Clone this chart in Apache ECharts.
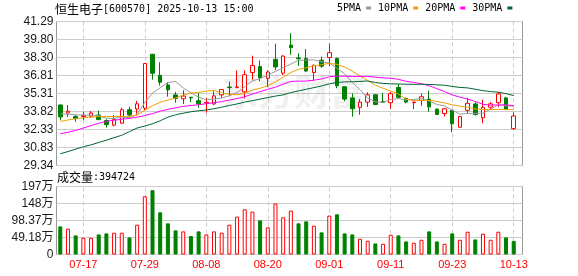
<!DOCTYPE html>
<html><head><meta charset="utf-8">
<script src="https://cdn.jsdelivr.net/npm/echarts@6/dist/echarts.min.js"></script>
<style>html,body{margin:0;padding:0;background:#fff}#c{width:578px;height:276px}</style>
</head><body><div id="c"></div>
<script>
const dates = ['07-14','07-15','07-16','07-17','07-18','07-21','07-22','07-23','07-24','07-25',
'07-28','07-29','07-30','07-31','08-01','08-04','08-05','08-06','08-07','08-08',
'08-11','08-12','08-13','08-14','08-15','08-18','08-19','08-20','08-21','08-22',
'08-25','08-26','08-27','08-28','08-29','09-01','09-02','09-03','09-04','09-05',
'09-08','09-09','09-10','09-11','09-12','09-15','09-16','09-17','09-18','09-19',
'09-22','09-23','09-24','09-25','09-26','09-29','09-30','10-09','10-10','10-13'];
const openP = [34.36,33.70,33.40,33.40,33.43,33.53,33.07,32.69,32.85,33.97,
34.03,34.10,38.57,36.82,36.02,35.20,34.88,35.00,34.72,34.52,
34.45,35.20,35.85,35.80,35.45,37.05,37.55,36.58,38.15,37.00,
39.33,38.27,38.22,37.05,38.08,38.30,38.22,35.88,34.95,34.17,
34.60,35.21,34.65,34.55,35.82,34.90,34.55,34.75,34.85,34.02,
33.65,33.92,32.52,33.92,34.45,33.30,34.18,34.55,34.95,32.40];
const closeP = [33.37,33.84,33.23,33.50,33.70,33.15,32.74,33.15,33.97,33.53,
34.46,37.80,37.00,36.25,35.62,34.90,35.10,34.95,34.46,34.58,
35.12,35.64,35.80,35.86,36.87,37.64,36.62,37.10,37.52,38.42,
39.12,38.20,37.18,37.64,37.58,38.70,35.95,34.85,34.05,34.60,
35.20,34.40,34.58,35.30,35.00,34.60,34.60,35.05,34.20,33.57,
34.05,32.80,33.40,34.50,33.56,34.17,34.46,35.28,34.00,33.45];
const lowP = [33.10,33.37,32.96,33.10,33.32,33.10,32.49,32.58,32.77,33.37,
33.63,33.90,36.46,35.98,35.05,34.55,34.45,34.60,34.14,33.72,
34.35,34.96,35.09,35.75,34.90,36.46,36.33,35.85,37.25,36.85,
38.52,37.60,37.10,36.35,37.45,37.60,35.75,34.68,33.40,33.55,
34.20,34.35,34.52,34.05,34.95,34.50,34.02,34.30,33.80,33.55,
33.40,32.10,32.45,33.70,33.50,32.85,33.95,34.20,33.95,32.30];
const highP = [34.40,34.36,33.53,33.80,33.86,33.89,33.18,33.53,34.14,34.22,
34.70,37.85,38.60,37.91,36.26,35.45,35.58,35.02,35.34,34.96,
35.50,35.66,36.30,37.23,37.24,38.45,38.05,37.25,39.45,38.50,
40.32,38.66,39.00,37.75,38.38,39.45,38.30,35.92,35.33,34.85,
35.42,35.25,35.37,35.45,36.10,34.98,34.62,35.32,35.55,34.05,
34.12,33.97,33.42,34.95,34.60,34.80,34.60,35.45,35.05,33.75];
const ma5 = [33.63,33.60,33.55,33.52,33.53,33.48,33.26,33.25,33.34,33.31,
33.57,34.58,35.35,35.80,36.23,36.31,35.78,35.37,35.01,34.80,
34.85,34.95,35.12,35.40,35.86,36.36,36.56,36.82,37.15,37.46,
37.76,38.07,38.09,38.11,37.94,37.86,37.41,36.95,36.23,35.63,
34.93,34.62,34.57,34.82,34.90,34.78,34.82,34.91,34.69,34.40,
34.29,33.93,33.60,33.66,33.66,33.69,34.02,34.39,34.29,34.27];
const ma10 = [33.00,33.12,33.22,33.30,33.36,33.40,33.40,33.40,33.41,33.42,
33.53,33.92,34.30,34.58,34.77,34.94,35.18,35.36,35.41,35.51,
35.58,35.36,35.24,35.21,35.33,35.60,35.75,35.97,36.28,36.66,
37.06,37.32,37.45,37.63,37.70,37.81,37.74,37.51,37.17,36.78,
36.39,36.01,35.75,35.52,35.26,34.85,34.72,34.74,34.75,34.65,
34.54,34.38,34.26,34.18,34.03,33.99,33.98,34.00,33.98,33.97];
const ma20 = [31.97,32.10,32.25,32.45,32.65,32.85,33.00,33.10,33.18,33.25,
33.35,33.48,33.65,33.85,34.00,34.12,34.25,34.32,34.38,34.47,
34.55,34.64,34.77,34.89,35.05,35.27,35.47,35.66,35.84,36.09,
36.32,36.34,36.35,36.42,36.52,36.71,36.75,36.75,36.73,36.73,
36.73,36.67,36.61,36.58,36.49,36.33,36.23,36.13,35.96,35.72,
35.47,35.20,35.01,34.85,34.65,34.42,34.35,34.37,34.37,34.31];
const ma30 = [30.31,30.50,30.70,30.90,31.05,31.25,31.44,31.65,31.85,32.15,
32.45,32.62,32.80,33.05,33.35,33.55,33.68,33.80,33.88,33.95,
34.05,34.18,34.32,34.45,34.60,34.72,34.85,34.98,35.10,35.20,
35.39,35.53,35.67,35.80,35.94,36.12,36.23,36.28,36.29,36.32,
36.35,36.23,36.15,36.12,36.10,36.09,36.07,36.08,36.07,36.03,
36.00,35.90,35.82,35.78,35.67,35.55,35.48,35.42,35.30,35.14];
const volume = [814000,746000,552000,485000,485000,581000,611000,630000,630000,494000,
862000,1686000,1861000,1221000,901000,698000,669000,533000,669000,581000,
669000,630000,862000,1095000,1308000,1240000,988000,785000,1473000,1076000,
1270000,901000,959000,833000,640000,1124000,1163000,611000,581000,455000,
397000,320000,310000,572000,552000,378000,339000,426000,669000,378000,
310000,611000,426000,659000,436000,601000,426000,659000,494000,394724];
const priceTicks = ['29.34','30.83','32.33','33.82','35.31','36.81','38.30','39.80','41.29'];
const volTicks = ['0','49.18万','98.37万','148万','197万'];
const priceRange = [29.34, 41.29];
const volRange = [0, 1967300];
const maNames = ['5PMA','10PMA','20PMA','30PMA'];

const UP = '#ff0000', DOWN = '#008000';
const maColors = ['#9a9a9a','#f0a000','#ff00ff','#006633'];
const FONT = '"Liberation Sans","Noto Sans CJK SC",sans-serif';
const MONO = '"DejaVu Sans Mono","Noto Sans CJK SC",monospace';
const CJK = '"Noto Sans CJK SC",sans-serif';
const showLabel = (i) => (i - 3) % 8 === 0;
const markDates = dates.filter((d, i) => showLabel(i));

const candle = dates.map((d, i) => [openP[i], closeP[i], lowP[i], highP[i]]);
const volData = volume.map((v, i) => {
  const up = i > 0 && closeP[i] >= closeP[i - 1];
  return {value: v, itemStyle: {color: up ? '#ffffff' : DOWN, borderColor: up ? UP : DOWN, borderWidth: 1}};
});
const vMark = {
  silent: true, z: 1, symbol: ['none', 'none'], animation: false,
  label: {show: false},
  lineStyle: {color: '#cccccc', type: [4, 3], width: 1},
  data: markDates.map(d => ({xAxis: d}))
};
const frameLeft = 56.5, frameW = 466, dataLeft = 56.45, dataW = 461.1;
const yLab = {fontSize: 12, fontFamily: FONT, color: '#1a1a1a', margin: 3};
const titleRich = {a: {fontSize: 12, fontFamily: CJK, color: '#000', fontWeight: 'normal'},
                   b: {fontSize: 10, fontFamily: MONO, color: '#000', fontWeight: 'normal'}};

const chart = echarts.init(document.getElementById('c'), null, {renderer: 'canvas'});
chart.setOption({
  animation: false,
  backgroundColor: '#ffffff',
  title: [
    {text: '{a|恒生电子}{b|[600570] 2025-10-13 15:00}', left: 55, top: 3, padding: 0,
     textStyle: {fontWeight: 'normal', rich: titleRich}},
    {text: '{a|成交量}{b|:' + volume[volume.length - 1] + '}', left: 57, top: 171, padding: 0,
     textStyle: {fontWeight: 'normal', rich: titleRich}}
  ],
  legend: {
    left: 337, top: 3, padding: 0, itemWidth: 5, itemHeight: 3, itemGap: 7, align: 'right',
    icon: 'rect', selectedMode: false, data: maNames,
    textStyle: {fontSize: 10, fontFamily: MONO, color: '#000', padding: [0, 0, 0, 0]}
  },
  graphic: [{type: 'text', left: 222, top: 74, z: 1, silent: true,
    style: {text: '东方财富', fontSize: 36, fontWeight: 'bold', fontFamily: CJK, fill: 'rgba(0,0,0,0.06)'}}],
  grid: [
    {left: frameLeft, top: 21.5, width: frameW, height: 144, show: true, borderColor: '#999', borderWidth: 1, backgroundColor: 'transparent', outerBoundsMode: 'none'},
    {left: dataLeft, top: 21.5, width: dataW, height: 144, outerBoundsMode: 'none'},
    {left: frameLeft, top: 186.5, width: frameW, height: 68, show: true, borderColor: '#999', borderWidth: 1, backgroundColor: 'transparent', outerBoundsMode: 'none'},
    {left: dataLeft, top: 186.5, width: dataW, height: 68, outerBoundsMode: 'none'}
  ],
  xAxis: [
    {gridIndex: 0, type: 'value', min: 0, max: 1, show: false},
    {gridIndex: 1, type: 'category', data: dates, boundaryGap: true, axisLine: {show: false}, axisTick: {show: false}, axisLabel: {show: false}, splitLine: {show: false}},
    {gridIndex: 2, type: 'value', min: 0, max: 1, show: false},
    {gridIndex: 3, type: 'category', data: dates, boundaryGap: true, axisLine: {show: false}, axisTick: {show: false}, splitLine: {show: false},
     axisLabel: {interval: (i) => showLabel(i), color: '#ff0000', fontSize: 11, fontFamily: FONT, margin: 5}}
  ],
  yAxis: [
    {gridIndex: 0, type: 'value', min: 0, max: priceTicks.length - 1, interval: 1, axisLine: {show: false}, axisTick: {show: false},
     axisLabel: Object.assign({formatter: (v) => priceTicks[Math.round(v)]}, yLab), splitLine: {show: true, lineStyle: {color: '#cccccc', width: 1}}},
    {gridIndex: 1, type: 'value', min: priceRange[0], max: priceRange[1], show: false},
    {gridIndex: 2, type: 'value', min: 0, max: volTicks.length - 1, interval: 1, axisLine: {show: false}, axisTick: {show: false},
     axisLabel: Object.assign({formatter: (v) => volTicks[Math.round(v)]}, yLab), splitLine: {show: true, lineStyle: {color: '#cccccc', width: 1}}},
    {gridIndex: 3, type: 'value', min: volRange[0], max: volRange[1], show: false}
  ],
  series: [
    {type: 'candlestick', name: 'K', xAxisIndex: 1, yAxisIndex: 1, data: candle, barWidth: 4,
     itemStyle: {color: '#ffffff', color0: DOWN, borderColor: UP, borderColor0: DOWN, borderWidth: 1},
     markLine: vMark},
    ...[ma5, ma10, ma20, ma30].map((arr, k) => ({
      type: 'line', name: maNames[k], xAxisIndex: 1, yAxisIndex: 1, data: arr, symbol: 'none', smooth: false,
      lineStyle: {width: 1, color: maColors[k]}, itemStyle: {color: maColors[k]}, z: 3
    })),
    {type: 'bar', name: 'VOL', xAxisIndex: 3, yAxisIndex: 3, data: volData, barWidth: 4, markLine: vMark}
  ]
});
</script></body></html>
